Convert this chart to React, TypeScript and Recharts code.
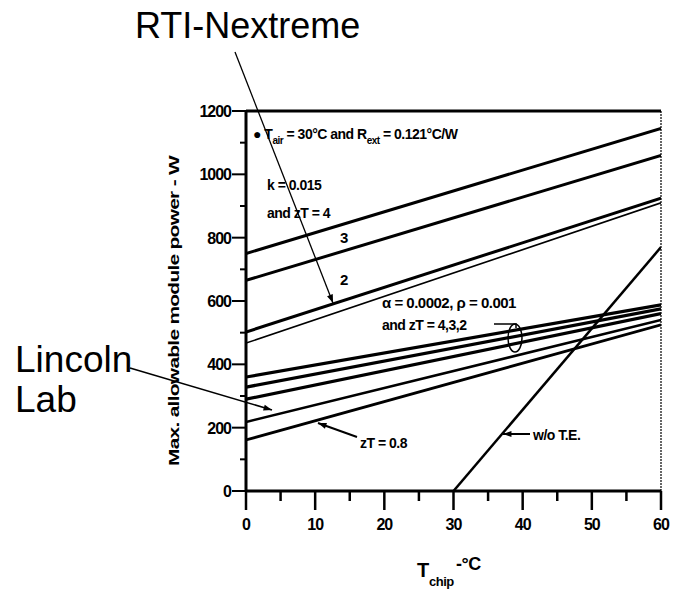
import * as React from 'react';
import { LineChart, Line, XAxis, YAxis, ReferenceLine } from 'recharts';

// chip temperature (deg C) at the two ends of each straight line
const temps = [0, 60];
// k = 0.015 group, zT = 4, 3, 2
const kZt4 = [750, 1145];
const kZt3 = [665, 1060];
const kZt2 = [502, 925];
const rtiNextreme = [467, 910];
// alpha = 0.0002, rho = 0.001 group, zT = 4, 3, 2
const aZt4 = [360, 588];
const aZt3 = [328, 575];
const aZt2 = [290, 560];
const lincolnLab = [218, 540];
const zt08 = [161, 525];
// without thermoelectric cooler
const woTeTemps = [30, 60];
const woTe = [0, 770];

const xTicks = [0, 5, 10, 15, 20, 25, 30, 35, 40, 45, 50, 55, 60];
const yTicks = [0, 100, 200, 300, 400, 500, 600, 700, 800, 900, 1000, 1100, 1200];

const pts = (xs: number[], ys: number[]) => xs.map((t, i) => ({ t, v: ys[i] }));

const series = [
  { name: 'k zT=4', data: pts(temps, kZt4), w: 3 },
  { name: 'k zT=3', data: pts(temps, kZt3), w: 3 },
  { name: 'k zT=2', data: pts(temps, kZt2), w: 3 },
  { name: 'RTI-Nextreme', data: pts(temps, rtiNextreme), w: 1.6 },
  { name: 'a zT=4', data: pts(temps, aZt4), w: 3.2 },
  { name: 'a zT=3', data: pts(temps, aZt3), w: 3.2 },
  { name: 'a zT=2', data: pts(temps, aZt2), w: 3.2 },
  { name: 'Lincoln Lab', data: pts(temps, lincolnLab), w: 2.5 },
  { name: 'zT=0.8', data: pts(temps, zt08), w: 2.8 },
  { name: 'w/o T.E.', data: pts(woTeTemps, woTe), w: 2.5 },
];

const font = '"Liberation Sans", Arial, sans-serif';

const YTick = (props: any) => {
  const { x, y, payload } = props;
  const major = payload.value % 200 === 0;
  return (
    <g>
      <line x1={x - (major ? 14 : 6)} x2={x} y1={y} y2={y} stroke="#000" strokeWidth={2} />
      {major && (
        <text x={x - 15} y={y + 6} textAnchor="end" fontSize={16} fontWeight="bold"
              fontFamily={font} letterSpacing={-1} fill="#000">{payload.value}</text>
      )}
    </g>
  );
};

const XTick = (props: any) => {
  const { x, y, payload } = props;
  const major = payload.value % 10 === 0;
  return (
    <g>
      <line x1={x} x2={x} y1={y} y2={y + (major ? 19 : 10)} stroke="#000" strokeWidth={2.5} />
      {major && (
        <text x={x} y={y + 39} textAnchor="middle" fontSize={16} fontWeight="bold"
              fontFamily={font} letterSpacing={-1} fill="#000">{payload.value}</text>
      )}
    </g>
  );
};

const Arrow = ({ x1, y1, x2, y2, w = 1.5 }: any) => {
  // head at (x2, y2)
  const a = Math.atan2(y2 - y1, x2 - x1), L = 9, s = 0.35;
  const p1 = [x2 - L * Math.cos(a - s), y2 - L * Math.sin(a - s)];
  const p2 = [x2 - L * Math.cos(a + s), y2 - L * Math.sin(a + s)];
  return (
    <g>
      <line x1={x1} y1={y1} x2={x2} y2={y2} stroke="#000" strokeWidth={w} />
      <polygon points={`${x2},${y2} ${p1[0]},${p1[1]} ${p2[0]},${p2[1]}`} fill="#000" />
    </g>
  );
};

export default function App() {
  const t = { fontFamily: font, fontWeight: 'bold' as const, fill: '#000', letterSpacing: -0.5 };
  return (
    <div style={{ padding: '8px 0 0 8px' }}>
      <style>{'html { overflow: hidden; } body { margin: 0; }'}</style>
      <div style={{ position: 'relative', width: 665, height: 582 }}>
        <LineChart width={665} height={574} margin={{ top: 103, right: 12, bottom: 51, left: 178 }}>
          <XAxis type="number" dataKey="t" domain={[0, 60]} ticks={xTicks} interval={0}
                 allowDataOverflow height={40} tick={<XTick />} tickLine={false}
                 tickSize={0} tickMargin={0} axisLine={{ stroke: '#000', strokeWidth: 3 }} />
          <YAxis type="number" domain={[0, 1200]} ticks={yTicks} interval={0}
                 allowDataOverflow width={60} tick={<YTick />} tickLine={false}
                 tickSize={0} tickMargin={0} axisLine={{ stroke: '#000', strokeWidth: 3 }} />
          <ReferenceLine y={1200} stroke="#000" strokeWidth={3} />
          <ReferenceLine x={60} stroke="#000" strokeWidth={1.2} strokeDasharray="2 1" />
          {series.map((s) => (
            <Line key={s.name} data={s.data} dataKey="v" type="linear" stroke="#000"
                  strokeWidth={s.w} dot={false} activeDot={false} isAnimationActive={false} />
          ))}
        </LineChart>
        <svg width={665} height={582} style={{ position: 'absolute', left: 0, top: 0, pointerEvents: 'none' }}>
          <text x={127} y={30} fontSize={36} fontFamily={font} fill="#000">RTI-Nextreme</text>
          <Arrow x1={227} y1={44} x2={325} y2={295} w={1.3} />
          <text x={7} y={364} fontSize={37} fontFamily={font} fill="#000">Lincoln</text>
          <text x={7} y={404} fontSize={37} fontFamily={font} fill="#000">Lab</text>
          <Arrow x1={122} y1={360} x2={264} y2={402} w={1.6} />

          <text transform="translate(171,303) rotate(-90)" textAnchor="middle" fontSize={15}
                textLength={310} lengthAdjust="spacingAndGlyphs" {...t}>
            Max. allowable module power - W
          </text>
          <text x={409} y={569} fontSize={20} {...t}>T</text>
          <text x={421} y={578} fontSize={13} {...t}>chip</text>
          <text x={448} y={562} fontSize={18} {...t}>-°C</text>

          <text x={245} y={131} fontSize={14} {...t}>
            ● T<tspan fontSize={10} dy={5}>air</tspan>
            <tspan dy={-5}> = 30°C and R</tspan>
            <tspan fontSize={10} dy={5}>ext</tspan>
            <tspan dy={-5}> = 0.121°C/W</tspan>
          </text>
          <text x={259} y={182} fontSize={14} {...t}>k = 0.015</text>
          <text x={259} y={210} fontSize={14} {...t}>and zT = 4</text>
          <text x={332} y={235} fontSize={15} {...t}>3</text>
          <text x={332} y={277} fontSize={15} {...t}>2</text>
          <text x={374} y={300} fontSize={15} {...t}>α = 0.0002, ρ = 0.001</text>
          <text x={374} y={322} fontSize={14} {...t}>and zT = 4,3,2</text>
          <polyline points="486,316 508,316 508,320" fill="none" stroke="#000" strokeWidth={1.5} />
          <ellipse cx={507} cy={330} rx={7} ry={14} fill="none" stroke="#000" strokeWidth={1.5} />
          <text x={352} y={440} fontSize={14} {...t}>zT = 0.8</text>
          <Arrow x1={349} y1={429} x2={310} y2={415} w={2} />
          <text x={525} y={432} fontSize={14} {...t}>w/o T.E.</text>
          <Arrow x1={522} y1={426} x2={495} y2={426} w={2} />
        </svg>
      </div>
    </div>
  );
}
